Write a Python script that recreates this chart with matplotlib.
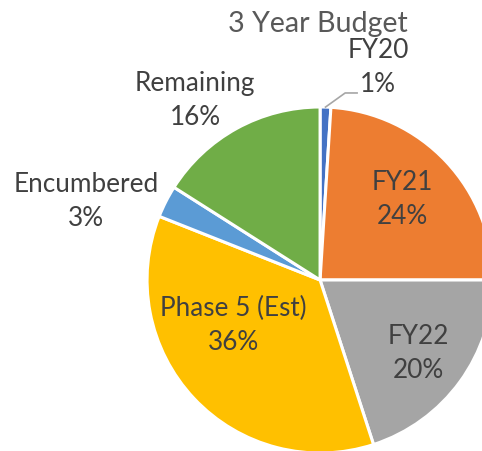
import matplotlib
matplotlib.use('Agg')
import matplotlib.pyplot as plt
import numpy as np

plt.rcParams['font.family'] = ['Lato', 'DejaVu Sans']

"""
data
"""
labels = ['FY20', 'FY21', 'FY22', 'Phase 5 (Est)', 'Encumbered', 'Remaining']
shares = [1, 24, 20, 36, 3, 16]  # percent
colors = ['#4472C4', '#ED7D31', '#A5A5A5', '#FFC000', '#5B9BD5', '#70AD47']
title = '3 Year Budget'

# label spots, in pie-radius units (center 0,0)
label_pos = [(0.335, 1.228), (0.474, 0.468), (0.566, -0.425),
             (-0.503, -0.260), (-1.353, 0.454), (-0.723, 1.038)]

txt_color = '#404040'

fig = plt.figure(figsize=(4.82, 4.51), dpi=100)
ax = fig.add_axes([0, 0, 1, 1])

wedges, _ = ax.pie(shares, colors=colors, startangle=90, counterclock=False,
                   radius=1.0, wedgeprops=dict(edgecolor='white', linewidth=2.2))

ax.set_xlim(-1.85, 0.936)
ax.set_ylim(-0.988, 1.618)
ax.set_aspect('equal')
ax.axis('off')

for lab, val, (x, y) in zip(labels, shares, label_pos):
    ax.text(x, y, f'{lab}\n{val}%', ha='center', va='center', fontsize=18.8,
            color=txt_color, linespacing=1.45)

# leader line for the thin FY20 slice
w = wedges[0]
mid = np.deg2rad((w.theta1 + w.theta2) / 2)
ax.plot([np.cos(mid) * 1.0, 0.145, 0.214], [np.sin(mid) * 1.0, 1.081, 1.081],
        color='#A6A6A6', linewidth=1.2)

ax.text(-0.014, 1.480, title, ha='center', va='center', fontsize=20.6, color='#595959')

fig.savefig('out.png', dpi=100)
